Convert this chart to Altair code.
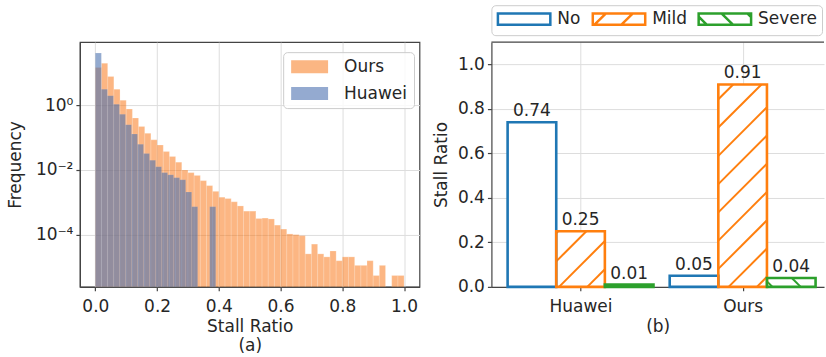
import altair as alt
import pandas as pd

# ---------------- (a) histogram data (density per bin) ----------------
ours_bin_width = 0.02
ours_freq = [14.5, 19.5, 7.6, 3.1, 1.41, 0.76, 0.40, 0.22, 0.135, 0.085,
             0.059, 0.037, 0.026, 0.0174, 0.0100, 0.0083, 0.0068, 0.0047, 0.0033, 0.0022,
             0.00145, 0.00132, 0.00105, 0.00078, 0.00054, 0.00054, 0.00032, 0.00033, 0.00031, 0.00020,
             0.000151, 0.000107, 0.000102, 0.000095, 2.6e-5, 5.2e-5, 2.6e-5, 2.1e-5, 3.2e-5, 1.6e-5,
             2.1e-5, 2.1e-5, 1.15e-5, 1.15e-5, 1.6e-5, 5.6e-6, 1.15e-5, 0, 5.6e-6, 5.6e-6]
huawei_bin_width = 0.0195
huawei_freq = [40, 3.1, 1.95, 1.07, 0.52, 0.25, 0.129, 0.062, 0.032, 0.020,
               0.0126, 0.0083, 0.0071, 0.0058, 0.0050, 0.0021, 0.00074, 0, 0, 0.00074]
series_names = ["Ours", "Huawei"]
x_ticks_a = [0.0, 0.2, 0.4, 0.6, 0.8, 1.0]
y_ticks_a = [1e-4, 1e-2, 1.0]
y_tick_text_a = ["10⁻⁴", "10⁻²", "10⁰"]

# ---------------- (b) grouped bars ----------------
groups = ["Huawei", "Ours"]
levels = ["No", "Mild", "Severe"]
ratio_huawei = [0.74, 0.25, 0.01]
ratio_ours = [0.05, 0.91, 0.04]
y_ticks_b = [0.0, 0.2, 0.4, 0.6, 0.8, 1.0]

FONT = "DejaVu Sans"
TXT = "#262626"
H = 245
W_A = 340
W_B = 333

# ---------- panel (a) ----------
def hist_df(freqs, width, name):
    rows = []
    for i, f in enumerate(freqs):
        if f > 0:
            rows.append({"series": name, "start": i * width, "end": (i + 1) * width, "freq": f})
    return pd.DataFrame(rows)

df_ours = hist_df(ours_freq, ours_bin_width, "Ours")
df_hua = hist_df(huawei_freq, huawei_bin_width, "Huawei")

y_min_a, y_max_a = 2.5e-6, 87.0
xs_a = alt.Scale(domain=[-0.05, 1.05], nice=False, zero=False)
ys_a = alt.Scale(type="log", domain=[y_min_a, y_max_a], nice=False)

expr = "'" + y_tick_text_a[-1] + "'"
for i in range(len(y_ticks_a) - 2, -1, -1):
    thr = (y_ticks_a[i] * y_ticks_a[i + 1]) ** 0.5
    expr = f"datum.value < {thr} ? '{y_tick_text_a[i]}' : ({expr})"

ax_x_a = alt.Axis(values=x_ticks_a, format=".1f", title=["Stall Ratio", "(a)"],
                  titleLineHeight=19, titlePadding=4, labelPadding=8, labelFlush=False)
ax_y_a = alt.Axis(values=y_ticks_a, labelExpr=expr, title="Frequency", titlePadding=11)

ours_bars = alt.Chart(df_ours).mark_rect(
    color="#fa7009", opacity=0.5, stroke="white", strokeWidth=0.6, strokeOpacity=0.35
).encode(
    x=alt.X("start:Q", scale=xs_a, axis=ax_x_a),
    x2="end:Q",
    y=alt.Y("freq:Q", scale=ys_a, axis=ax_y_a),
    y2=alt.datum(y_min_a),
)

hua_bars = alt.Chart(df_hua).mark_rect(
    color="#4c72b0", opacity=0.6, stroke="white", strokeWidth=0.5, strokeOpacity=0.25
).encode(
    x=alt.X("start:Q", scale=xs_a, axis=ax_x_a),
    x2="end:Q",
    y=alt.Y("freq:Q", scale=ys_a, axis=ax_y_a),
    y2=alt.datum(y_min_a),
)

leg_a = alt.Chart(df_ours.head(len(series_names)).assign(series=series_names)).mark_point(
    filled=True, opacity=0
).encode(
    x=alt.X("start:Q", scale=xs_a, axis=ax_x_a),
    y=alt.Y("freq:Q", scale=ys_a, axis=ax_y_a),
    color=alt.Color("series:N",
                    scale=alt.Scale(domain=series_names, range=["#fbb683", "#94aad0"]),
                    legend=alt.Legend(title=None, orient="none", legendX=203.5, legendY=10,
                                      direction="vertical",
                                      symbolType="M-1,-1H4.69V1H-1Z", symbolSize=169,
                                      symbolStrokeWidth=0, symbolOpacity=1,
                                      labelOffset=38, rowPadding=9, padding=6,
                                      labelFontSize=17, labelFont=FONT, labelColor=TXT,
                                      strokeColor="#cccccc", fillColor="rgba(255,255,255,0.8)",
                                      cornerRadius=4)),
)

panel_a = alt.layer(ours_bars, hua_bars, leg_a).properties(width=W_A, height=H)

# ---------- panel (b) ----------
xdom_b = [-0.55, 1.502]
ydom_b = [0.0, 1.1]
offsets = [-0.3, 0.0, 0.3]
bar_w = 0.3
colors_b = ["#1f77b4", "#ff7f0e", "#2ca02c"]

rows = []
for gi, vals in enumerate([ratio_huawei, ratio_ours]):
    for li, v in enumerate(vals):
        c = gi + offsets[li]
        rows.append({"group": groups[gi], "level": levels[li], "value": v,
                     "xc": c, "x0": c - bar_w / 2, "x1": c + bar_w / 2,
                     "label": f"{v:.2f}"})
df_b = pd.DataFrame(rows)

def px_x(x):
    return (x - xdom_b[0]) / (xdom_b[1] - xdom_b[0]) * W_B

def px_y(y):
    return H * (1 - (y - ydom_b[0]) / (ydom_b[1] - ydom_b[0]))

def dat_x(p):
    return xdom_b[0] + p / W_B * (xdom_b[1] - xdom_b[0])

def dat_y(p):
    return ydom_b[0] + (1 - p / H) * (ydom_b[1] - ydom_b[0])

hatch_step = 28.3
hatch_rows = []
for r in rows:
    x0p, x1p = px_x(r["x0"]), px_x(r["x1"])
    ytp = px_y(r["value"])
    if r["level"] == "Mild":          # '/' : x + y = c
        c0 = 341.0
        for k in range(-60, 60):
            c = c0 + k * hatch_step
            xa, xb = max(x0p, c - H), min(x1p, c - ytp)
            if xb - xa > 0.5:
                hatch_rows.append({"level": "Mild", "x0": dat_x(xa), "value": dat_y(c - xa),
                                   "x1": dat_x(xb), "v1": dat_y(c - xb)})
    elif r["level"] == "Severe":      # '\' : x - y = c
        c0 = 64.7
        for k in range(-60, 60):
            c = c0 + k * hatch_step
            xa, xb = max(x0p, c + ytp), min(x1p, c + H)
            if xb - xa > 0.5:
                hatch_rows.append({"level": "Severe", "x0": dat_x(xa), "value": dat_y(xa - c),
                                   "x1": dat_x(xb), "v1": dat_y(xb - c)})
df_h = pd.DataFrame(hatch_rows)

xs_b = alt.Scale(domain=xdom_b, nice=False, zero=False)
ys_b = alt.Scale(domain=ydom_b, nice=False)
# reversed order keeps this (legend-less) scale from being merged with the legend's scales
stroke_scale = alt.Scale(domain=levels[::-1], range=colors_b[::-1])

x_lab_expr = f"datum.value < 0.5 ? '{groups[0]}' : '{groups[1]}'"
ax_x_b = alt.Axis(values=[0, 1], labelExpr=x_lab_expr, title="(b)", titlePadding=4,
                  labelPadding=8, labelFlush=False)
ax_y_b = alt.Axis(values=y_ticks_b, format=".1f", title="Stall Ratio", titlePadding=7)

X_B = alt.X("x0:Q", scale=xs_b, axis=ax_x_b)
Y_B = alt.Y("value:Q", scale=ys_b, axis=ax_y_b)

bars_fill = alt.Chart(df_b).mark_rect(fill="white").encode(
    x=X_B, x2="x1:Q", y=Y_B, y2=alt.datum(0),
)

hatches = alt.Chart(df_h).mark_rule(strokeWidth=2, strokeCap="butt").encode(
    x=X_B, x2="x1:Q", y=Y_B, y2="v1:Q",
    stroke=alt.Stroke("level:N", scale=stroke_scale, legend=None),
)

bars_outline = alt.Chart(df_b).mark_rect(fillOpacity=0, strokeWidth=2.6).encode(
    x=X_B, x2="x1:Q", y=Y_B, y2=alt.datum(0),
    stroke=alt.Stroke("level:N", scale=stroke_scale, legend=None),
)

labels_b = alt.Chart(df_b).mark_text(fontSize=17, font=FONT, color=TXT, baseline="alphabetic",
                                     dy=-6).encode(
    x=alt.X("xc:Q", scale=xs_b, axis=ax_x_b),
    y=Y_B,
    text="label:N",
)

top_spine = alt.Chart(df_b.head(1)).mark_rule(color="#444444", strokeWidth=1.2).encode(
    y=alt.value(0)
)

path_no = "M-1,-0.8H6.5V0.8H-1Z"
path_mild = "M-1,-0.8H6.5V0.8H-1Z M-0.75,0.8L0.85,-0.8 M3.1,0.8L4.7,-0.8"
path_severe = "M-1,-0.8H6.5V0.8H-1Z M-1,-0.35L0.15,0.8 M2.3,-0.8L3.9,0.8 M6,-0.8L6.5,-0.3"

legend_b = dict(title=None, orient="top", offset=7, direction="horizontal",
                symbolSize=196, symbolStrokeWidth=2.5, symbolOpacity=1, symbolFillColor="white",
                labelOffset=44, columnPadding=6, padding=5,
                labelFontSize=17, labelFont=FONT, labelColor=TXT,
                strokeColor="#cccccc", fillColor="rgba(255,255,255,0.8)", cornerRadius=4)

df_leg_b = df_b.head(3).assign(severity=levels)
leg_b = alt.Chart(df_leg_b).mark_point(filled=False, opacity=0).encode(
    x=X_B, y=Y_B,
    color=alt.Color("severity:N", scale=alt.Scale(domain=levels, range=colors_b),
                    legend=alt.Legend(**legend_b)),
    shape=alt.Shape("severity:N", scale=alt.Scale(domain=levels, range=[path_no, path_mild, path_severe]),
                    legend=alt.Legend(**legend_b)),
)

panel_b = alt.layer(bars_fill, hatches, bars_outline, labels_b, top_spine, leg_b).properties(
    width=W_B, height=H, view=alt.ViewBackground(stroke="transparent")
)

chart = alt.hconcat(panel_a, panel_b, spacing=72, bounds="flush").resolve_scale(
    color="independent", shape="independent", stroke="independent"
).properties(
    padding={"left": 5, "top": 3, "right": 0, "bottom": 0},
    background="white",
).configure(font=FONT).configure_view(
    stroke="#444444", strokeWidth=1.2
).configure_axis(
    labelFont=FONT, labelFontSize=17, labelColor=TXT, labelPadding=3,
    titleFont=FONT, titleFontSize=17, titleFontWeight="normal", titleColor=TXT,
    gridColor="#dddddd", gridWidth=1, domainColor="#444444", domainWidth=1.2,
    tickColor="#444444", tickSize=4, tickWidth=1.2,
)

chart.save("out.html", embed_options={"renderer": "svg", "actions": False})
